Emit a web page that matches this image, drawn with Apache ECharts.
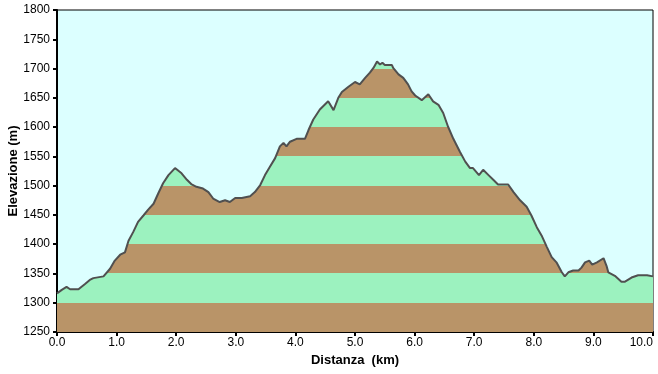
<!DOCTYPE html>
<html>
<head>
<meta charset="utf-8">
<script src="https://cdn.jsdelivr.net/npm/echarts@6/dist/echarts.min.js"></script>
<style>html,body{margin:0;padding:0;background:#fff}#c{width:658px;height:374px}</style>
</head>
<body>
<div id="c"></div>
<script>
const distKm = [0.00,0.08,0.16,0.22,0.36,0.39,0.47,0.55,0.61,0.64,0.78,0.89,0.97,1.06,1.14,1.20,1.28,1.36,1.45,1.53,1.62,1.70,1.78,1.87,1.98,2.01,2.09,2.18,2.26,2.34,2.45,2.54,2.62,2.73,2.82,2.90,2.99,3.10,3.24,3.32,3.41,3.49,3.57,3.66,3.74,3.80,3.85,3.91,4.02,4.16,4.22,4.30,4.41,4.55,4.64,4.72,4.78,4.89,5.00,5.08,5.17,5.25,5.31,5.37,5.42,5.46,5.50,5.62,5.64,5.73,5.81,5.89,5.95,6.01,6.12,6.23,6.31,6.40,6.48,6.56,6.65,6.76,6.85,6.93,6.98,7.08,7.15,7.24,7.32,7.40,7.57,7.66,7.77,7.88,7.96,8.05,8.13,8.22,8.30,8.38,8.47,8.52,8.58,8.66,8.75,8.80,8.86,8.93,8.98,9.06,9.17,9.22,9.25,9.36,9.47,9.53,9.64,9.75,9.90,9.93,10.00];
const elevM = [1316,1322,1327,1323,1323,1321,1332,1339,1342,1345,1345,1358,1372,1382,1386,1406,1421,1438,1449,1459,1469,1487,1504,1518,1530,1532,1521,1510,1502,1498,1495,1489,1478,1472,1475,1472,1479,1479,1482,1489,1501,1518,1532,1547,1567,1573,1567,1575,1580,1580,1595,1613,1630,1644,1629,1650,1660,1669,1677,1673,1684,1693,1701,1712,1707,1710,1706,1706,1701,1690,1684,1673,1661,1654,1646,1656,1644,1638,1624,1601,1580,1558,1541,1530,1530,1518,1527,1518,1510,1502,1502,1489,1475,1464,1449,1429,1415,1395,1378,1369,1352,1345,1352,1355,1355,1360,1369,1372,1365,1369,1376,1363,1352,1346,1336,1336,1343,1347,1347,1345,1345];
const bandEdges = [1250,1300,1350,1400,1450,1500,1550,1600,1650,1700,1750,1800];
const xTitle = 'Distanza  (km)';
const yTitle = 'Elevazione (m)';

const BROWN = '#B99468', GREEN = '#9CF2BF';
const pieces = [];
for (let i = 0; i < bandEdges.length - 1; i++) {
  pieces.push({ gte: bandEdges[i], lt: bandEdges[i + 1], color: i % 2 === 0 ? BROWN : GREEN });
}
const pts = distKm.map((d, i) => [d, elevM[i]]);
const font = 'Liberation Sans, Arial, sans-serif';
const chart = echarts.init(document.getElementById('c'), null, { renderer: 'canvas' });
chart.setOption({
  animation: false,
  backgroundColor: '#ffffff',
  grid: { left: 57, right: 5, top: 10, bottom: 42, containLabel: false, outerBoundsMode: 'none', show: true, backgroundColor: '#DCFFFF', borderColor: '#000', borderWidth: 1 },
  visualMap: { show: false, type: 'piecewise', seriesIndex: 0, dimension: 1, pieces: pieces },
  xAxis: {
    type: 'value', min: 0, max: 10, interval: 1,
    name: xTitle, nameLocation: 'middle', nameGap: 22, nameMoveOverlap: false,
    nameTextStyle: { fontFamily: font, fontSize: 13, fontWeight: 'bold', color: '#000' },
    axisLine: { lineStyle: { color: '#000', width: 2 } },
    axisTick: { length: 4, lineStyle: { color: '#000', width: 2 } },
    axisLabel: { fontFamily: font, fontSize: 12, color: '#000', margin: 5, alignMaxLabel: 'right', formatter: v => v.toFixed(1) },
    splitLine: { show: false }
  },
  yAxis: {
    type: 'value', min: 1250, max: 1800, interval: 50,
    name: yTitle, nameLocation: 'middle', nameGap: 37, nameRotate: 90, nameMoveOverlap: false,
    nameTextStyle: { fontFamily: font, fontSize: 13, fontWeight: 'bold', color: '#000' },
    axisLine: { show: true, lineStyle: { color: '#000', width: 2 } },
    axisTick: { show: true, length: 4, lineStyle: { color: '#000', width: 2 } },
    axisLabel: { fontFamily: font, fontSize: 12, color: '#000', margin: 7, formatter: v => String(v) },
    splitLine: { show: false }
  },
  series: [
    { type: 'line', data: pts, symbol: 'none', lineStyle: { width: 0 }, areaStyle: { opacity: 1 }, z: 2 },
    { type: 'line', data: pts, symbol: 'none', lineStyle: { color: '#505050', width: 2 }, z: 3 }
  ]
});
</script>
</body>
</html>
